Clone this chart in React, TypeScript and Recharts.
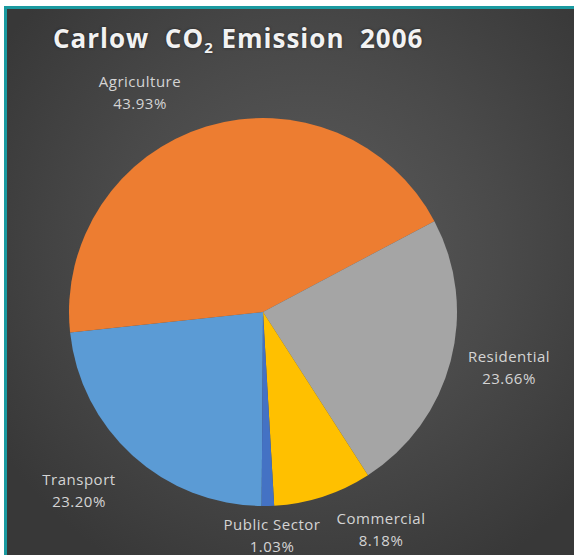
import React from 'react';
import { PieChart, Pie, Cell } from 'recharts';

const categories = ['Transport', 'Agriculture', 'Residential', 'Commercial', 'Public Sector'];
const shares = [23.2, 43.93, 23.66, 8.18, 1.03];
const colors = ['#5B9BD5', '#ED7D31', '#A5A5A5', '#FFC000', '#4472C4'];

const data = categories.map((name, i) => ({ name, value: shares[i] }));

// where Excel's "best fit" put each label (first baseline), relative to the pie centre
const labelSpot: Record<string, [number, number]> = {
  Transport: [-184, 173],
  Agriculture: [-123, -225],
  Residential: [246, 50],
  Commercial: [118, 212],
  'Public Sector': [9, 218],
};

const CX = 251;
const CY = 298;

const renderLabel = (props: any) => {
  const { name, value, cx, cy } = props;
  const [dx, dy] = labelSpot[name] || [0, 0];
  return (
    <text
      x={cx + dx}
      y={cy + dy}
      textAnchor="middle"
      fill="#d4d4d4"
      fontSize={15}
      letterSpacing={0.5}
      fontFamily="'Open Sans', sans-serif"
    >
      <tspan x={cx + dx} dy="0">{name}</tspan>
      <tspan x={cx + dx} dy="22">{value.toFixed(2)}%</tspan>
    </text>
  );
};

export default function App() {
  return (
    <div style={{ position: 'absolute', left: 0, top: 0, width: 574, height: 555, background: '#fff' }}>
      <div
        style={{
          position: 'absolute',
          left: 4,
          top: 6,
          width: 570,
          height: 549,
          borderTop: '3px solid #1A9AA0',
          borderLeft: '3px solid #1A9AA0',
          background: 'radial-gradient(circle at 300px 240px, #5c5c5c 0%, #4a4a4a 45%, #383838 85%)',
        }}
      >
        <div
          style={{
            position: 'absolute',
            left: 46,
            top: 11,
            color: '#f2f2f2',
            fontFamily: "'Open Sans', sans-serif",
            fontWeight: 700,
            fontSize: 26,
            letterSpacing: 1,
            whiteSpace: 'pre',
            textShadow: '0 0 3px rgba(0,0,0,0.5)',
          }}
        >
          Carlow  CO<sub style={{ fontSize: 15, verticalAlign: -5 }}>2</sub> Emission  2006
        </div>
        <div style={{ position: 'absolute', left: 0, top: 0 }}>
          <PieChart width={567} height={546}>
            <Pie
              data={data}
              dataKey="value"
              nameKey="name"
              cx={CX}
              cy={CY}
              outerRadius={194}
              startAngle={269.6}
              endAngle={-90.4}
              stroke="none"
              label={renderLabel}
              labelLine={false}
              isAnimationActive={false}
            >
              {data.map((d, i) => (
                <Cell key={d.name} fill={colors[i]} />
              ))}
            </Pie>
          </PieChart>
        </div>
      </div>
    </div>
  );
}
